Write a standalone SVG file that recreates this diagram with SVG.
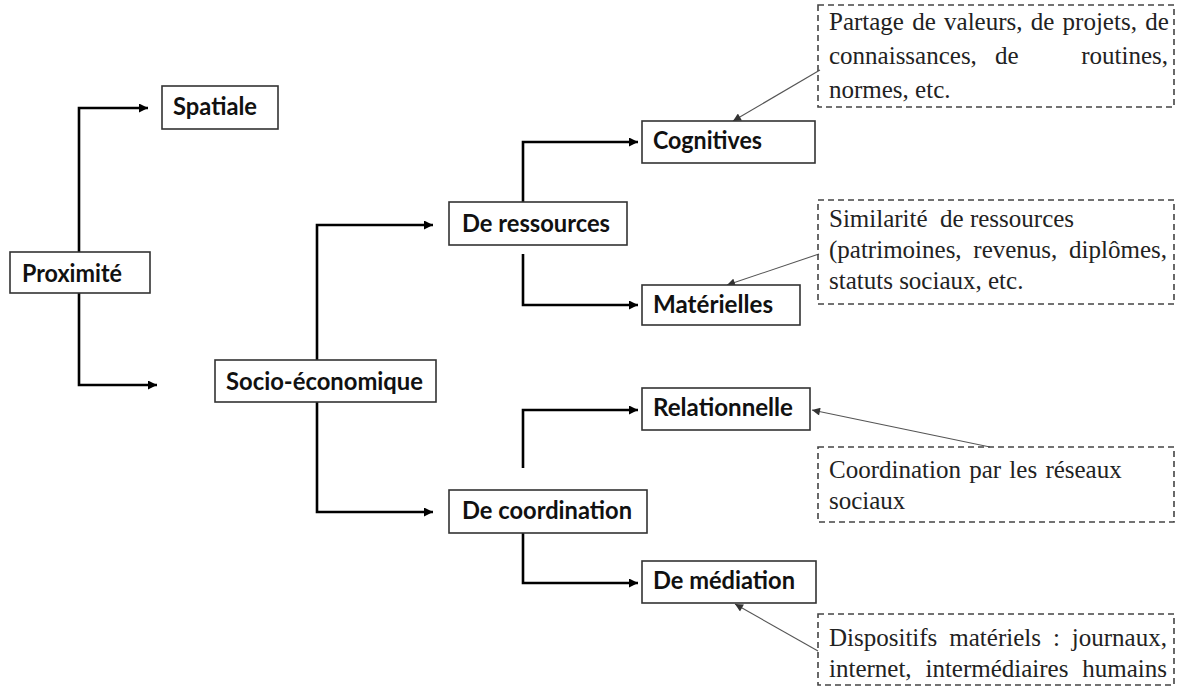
<svg xmlns="http://www.w3.org/2000/svg" width="1184" height="686" viewBox="0 0 1184 686">
<defs>
<style>
.box{fill:#fff;stroke:#333;stroke-width:1.6}
.lbl{font-family:Lato,"Open Sans","Liberation Sans",sans-serif;font-weight:bold;font-size:24px;fill:#111}
.note{fill:none;stroke:#444;stroke-width:1.6;stroke-dasharray:6 4}
.nt{font-family:"Liberation Serif","Times New Roman",serif;font-size:25px;fill:#222}
.conn{fill:none;stroke:#000;stroke-width:2.6}
.lead{fill:none;stroke:#555;stroke-width:1.1}
</style>
<marker id="ah" viewBox="0 0 10 10" refX="10" refY="5" markerWidth="10" markerHeight="9" markerUnits="userSpaceOnUse" orient="auto">
<path d="M0,0 L10,5 L0,10 z" fill="#000"/>
</marker>
<marker id="ah2" viewBox="0 0 10 10" refX="10" refY="5" markerWidth="9" markerHeight="8" markerUnits="userSpaceOnUse" orient="auto">
<path d="M0,0 L10,5 L0,10 z" fill="#333"/>
</marker>
</defs>
<rect width="1184" height="686" fill="#fff"/>
<g id="connectors">
<path class="conn" d="M79,252 V108 H148" marker-end="url(#ah)"/>
<path class="conn" d="M79,293 V385 H157" marker-end="url(#ah)"/>
<path class="conn" d="M317,360 V225 H433" marker-end="url(#ah)"/>
<path class="conn" d="M317,402 V512 H433" marker-end="url(#ah)"/>
<path class="conn" d="M523,202 V142 H638" marker-end="url(#ah)"/>
<path class="conn" d="M523,254 V305 H638" marker-end="url(#ah)"/>
<path class="conn" d="M523,468 V410 H638" marker-end="url(#ah)"/>
<path class="conn" d="M523,533 V583 H638" marker-end="url(#ah)"/>
<path class="lead" d="M820,70 L733,121" marker-end="url(#ah2)"/>
<path class="lead" d="M819,254 L727,285" marker-end="url(#ah2)"/>
<path class="lead" d="M990,447 L812,410" marker-end="url(#ah2)"/>
<path class="lead" d="M818,651 L735,604" marker-end="url(#ah2)"/>
</g>
<g id="proximite"><rect class="box" x="10" y="252" width="140" height="41"/><text class="lbl" x="22" y="282" textLength="100" lengthAdjust="spacingAndGlyphs">Proximité</text></g>
<g id="spatiale"><rect class="box" x="162" y="86" width="116" height="43"/><text class="lbl" x="173" y="115" textLength="84" lengthAdjust="spacingAndGlyphs">Spatiale</text></g>
<g id="socio"><rect class="box" x="215" y="360" width="221" height="42"/><text class="lbl" x="226" y="390" textLength="197" lengthAdjust="spacingAndGlyphs">Socio-économique</text></g>
<g id="ressources"><rect class="box" x="449" y="202" width="178" height="43"/><text class="lbl" x="462" y="232" textLength="148" lengthAdjust="spacingAndGlyphs">De ressources</text></g>
<g id="coordination"><rect class="box" x="449" y="490" width="198" height="43"/><text class="lbl" x="462" y="519" textLength="170" lengthAdjust="spacingAndGlyphs">De coordination</text></g>
<g id="cognitives"><rect class="box" x="642" y="121" width="173" height="42"/><text class="lbl" x="653" y="149" textLength="109" lengthAdjust="spacingAndGlyphs">Cognitives</text></g>
<g id="materielles"><rect class="box" x="642" y="285" width="158" height="40"/><text class="lbl" x="653" y="313" textLength="120" lengthAdjust="spacingAndGlyphs">Matérielles</text></g>
<g id="relationnelle"><rect class="box" x="642" y="388" width="168" height="42"/><text class="lbl" x="653" y="416" textLength="140" lengthAdjust="spacingAndGlyphs">Relationnelle</text></g>
<g id="mediation"><rect class="box" x="642" y="561" width="174" height="42"/><text class="lbl" x="653" y="589" textLength="142" lengthAdjust="spacingAndGlyphs">De médiation</text></g>
<g id="note-cognitives">
<rect class="note" x="818" y="5" width="356" height="102"/>
<text class="nt" x="829" y="30" word-spacing="2">Partage de valeurs, de projets, de</text>
<text class="nt" y="64"><tspan x="829">connaissances,</tspan><tspan x="995">de</tspan><tspan x="1168" text-anchor="end">routines,</tspan></text>
<text class="nt" x="829" y="98">normes, etc.</text>
</g>
<g id="note-materielles">
<rect class="note" x="818" y="200" width="356" height="104"/>
<text class="nt" x="829" y="227" xml:space="preserve">Similarité  de ressources</text>
<text class="nt" x="829" y="258" word-spacing="5.5">(patrimoines, revenus, diplômes,</text>
<text class="nt" x="829" y="289">statuts sociaux, etc.</text>
</g>
<g id="note-relationnelle">
<rect class="note" x="818" y="447" width="356" height="75"/>
<text class="nt" x="829" y="478" word-spacing="2">Coordination par les réseaux</text>
<text class="nt" x="829" y="509">sociaux</text>
</g>
<g id="note-mediation">
<rect class="note" x="818" y="614" width="356" height="71"/>
<text class="nt" x="829" y="646" word-spacing="5.7">Dispositifs matériels : journaux,</text>
<text class="nt" x="829" y="677" word-spacing="7.6">internet, intermédiaires humains</text>
</g>
</svg>
